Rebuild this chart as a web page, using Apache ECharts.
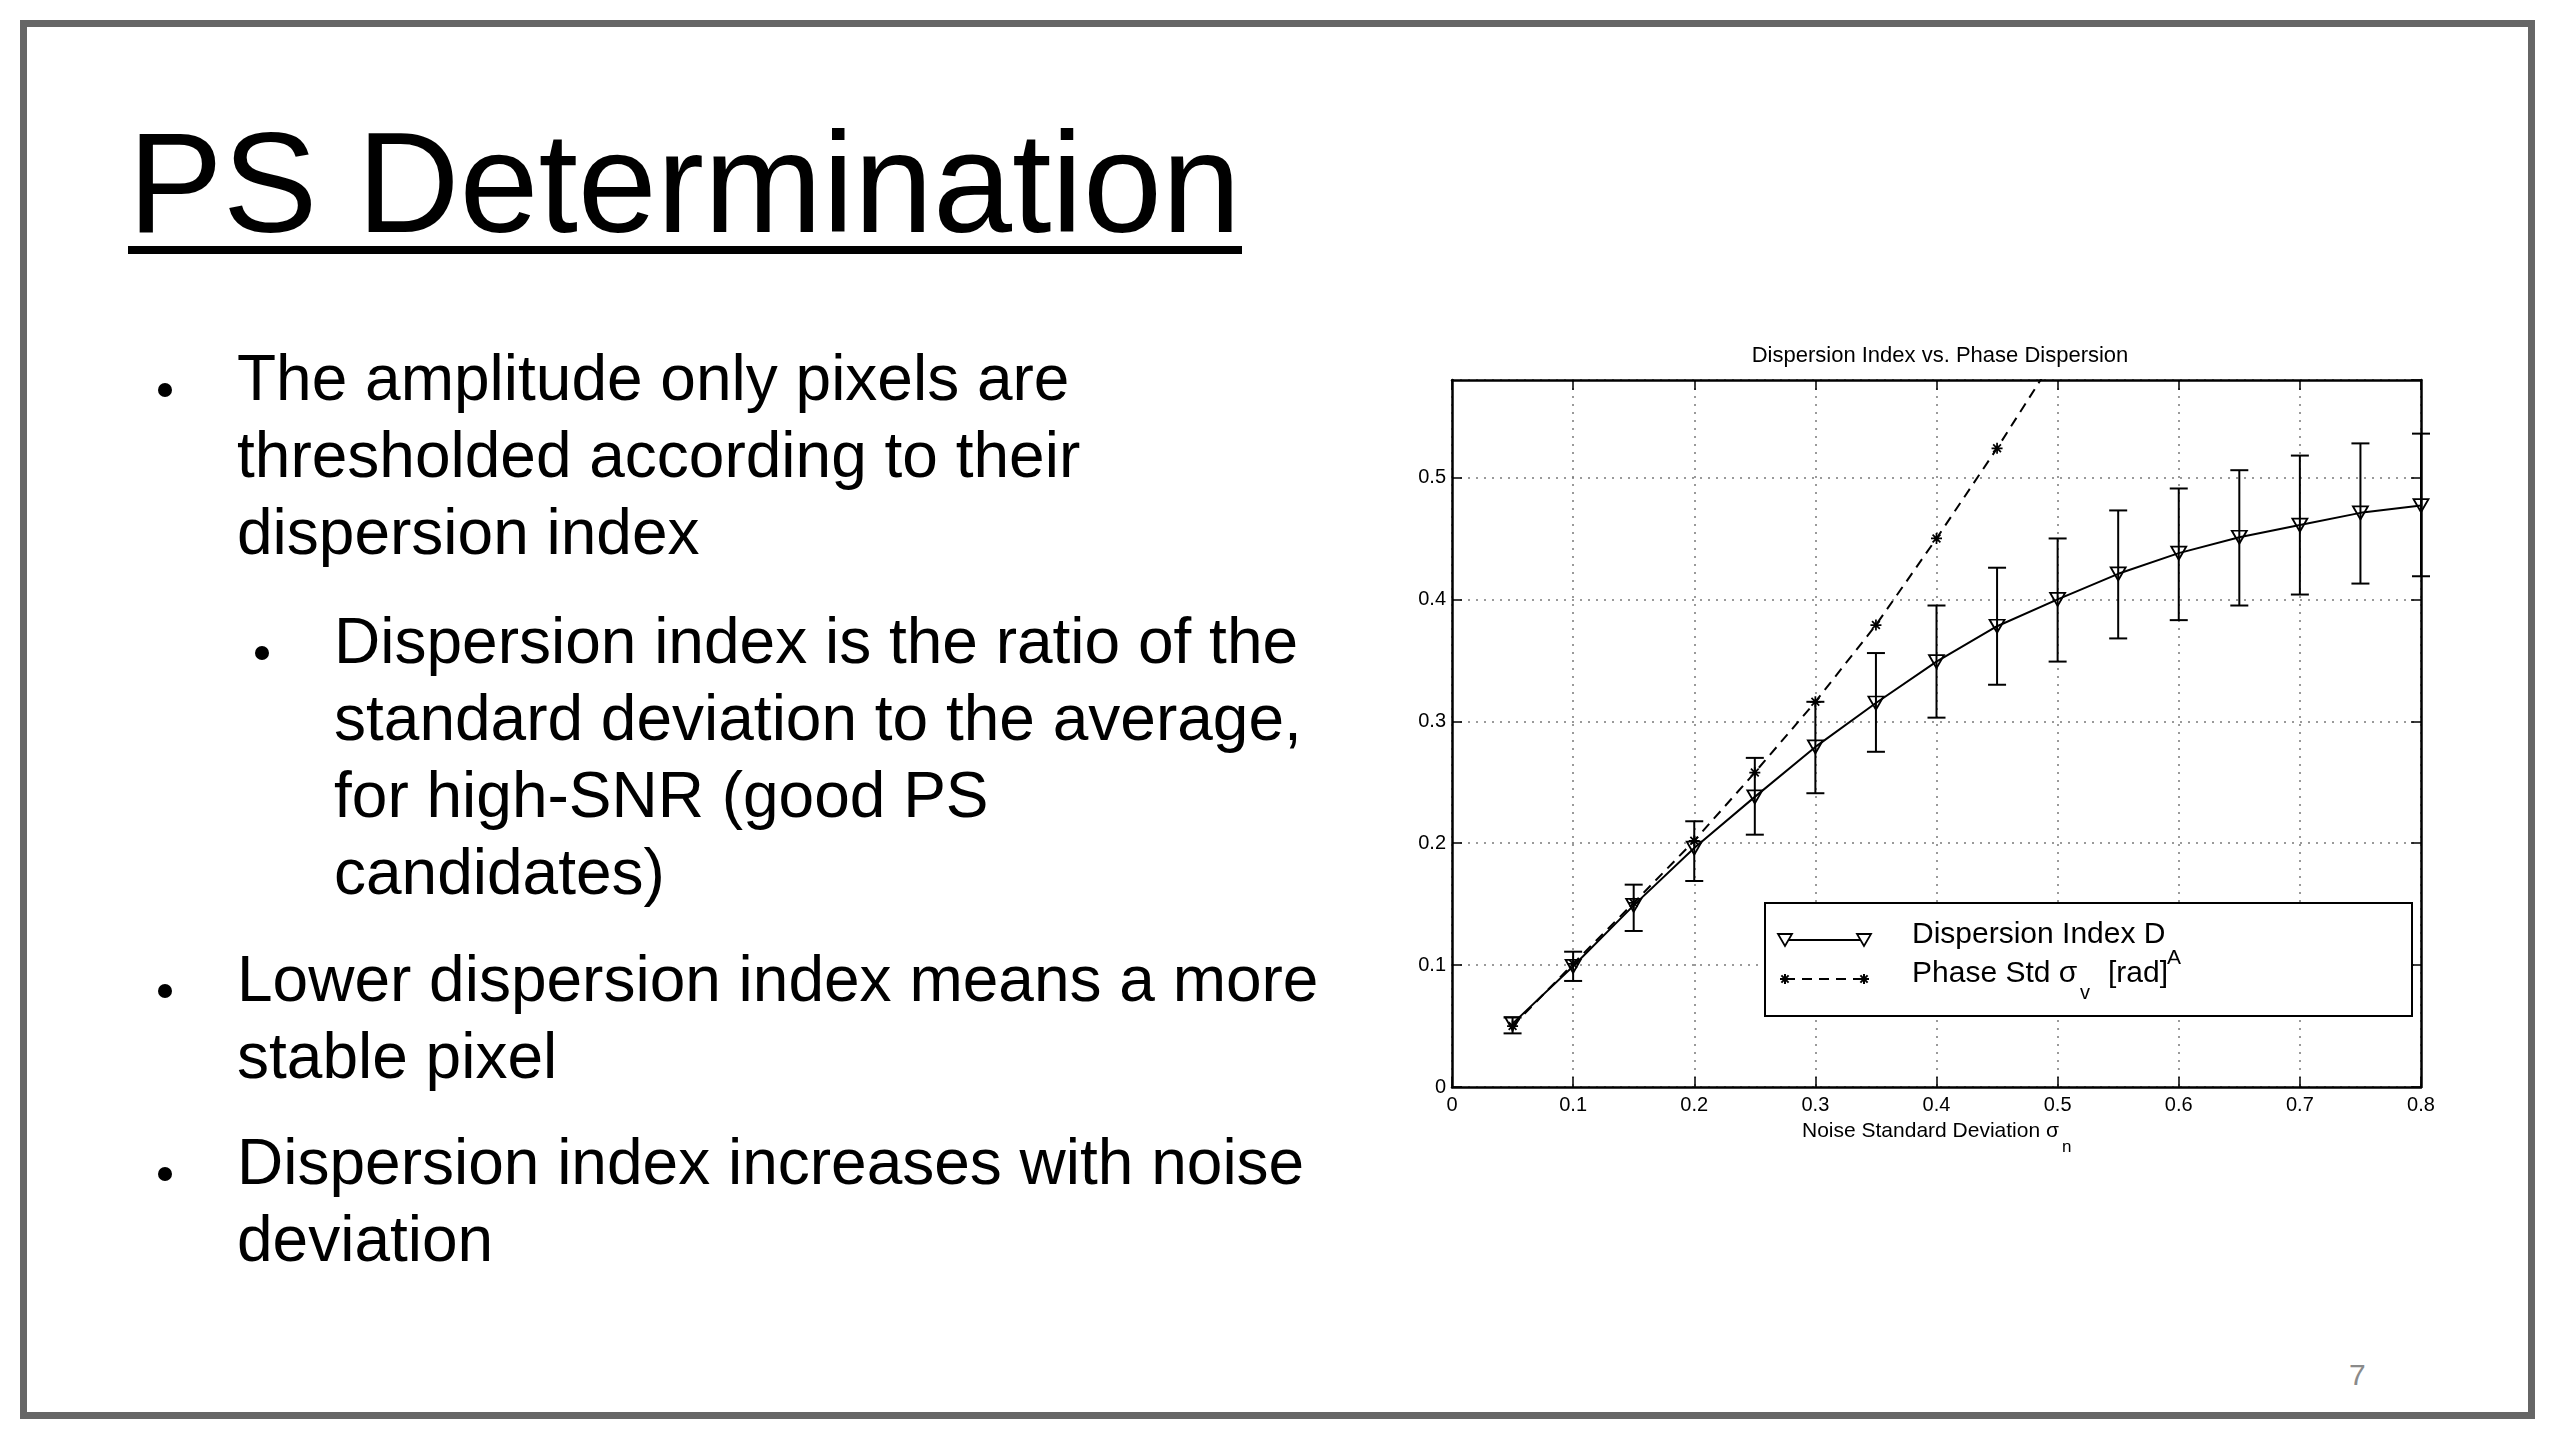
<!DOCTYPE html>
<html>
<head>
<meta charset="utf-8">
<script src="https://cdn.jsdelivr.net/npm/echarts@6/dist/echarts.min.js"></script>
<style>
html,body{margin:0;padding:0;width:2560px;height:1440px;background:#fff;overflow:hidden;font-family:"Liberation Sans",Arial,Helvetica,sans-serif;color:#000}
.frame{position:absolute;left:20px;top:20px;width:2515px;height:1399px;border:7px solid #666;box-sizing:border-box}
.title{position:absolute;left:128px;top:112px;font-size:142px;line-height:142px;white-space:nowrap}
.uline{position:absolute;left:128px;top:246px;width:1114px;height:8px;background:#000}
.p{position:absolute;font-size:64px;line-height:77px;white-space:nowrap}
.dot{position:absolute;width:14px;height:14px;border-radius:50%;background:#000}
.pg{position:absolute;left:2349px;top:1360px;font-size:30px;line-height:30px;color:#8a8a8a}
#chart{position:absolute;left:0;top:0;width:2560px;height:1440px}
</style>
</head>
<body>
<div class="frame"></div>
<div class="title">PS Determination</div>
<div class="uline"></div>

<div class="dot" style="left:158px;top:383px"></div>
<div class="p" style="left:237px;top:340px">The amplitude only pixels are<br>thresholded according to their<br>dispersion index</div>

<div class="dot" style="left:255px;top:646px"></div>
<div class="p" style="left:334px;top:603px">Dispersion index is the ratio of the<br>standard deviation to the average,<br>for high-SNR (good PS<br>candidates)</div>

<div class="dot" style="left:158px;top:984px"></div>
<div class="p" style="left:237px;top:941px">Lower dispersion index means a more<br>stable pixel</div>

<div class="dot" style="left:158px;top:1167px"></div>
<div class="p" style="left:237px;top:1124px">Dispersion index increases with noise<br>deviation</div>

<div class="pg">7</div>
<div id="chart"></div>

<script>
// ---- data ----
const xValues = [0.05, 0.10, 0.15, 0.20, 0.25, 0.30, 0.35, 0.40, 0.45, 0.50, 0.55, 0.60, 0.65, 0.70, 0.75, 0.80];
const dispersionIndex = [0.052, 0.099, 0.149, 0.196, 0.238, 0.279, 0.315, 0.349, 0.378, 0.400, 0.421, 0.438, 0.451, 0.461, 0.471, 0.477];
const errLow  = [0.044, 0.087, 0.128, 0.169, 0.207, 0.241, 0.275, 0.303, 0.330, 0.349, 0.368, 0.383, 0.395, 0.404, 0.413, 0.419];
const errHigh = [0.057, 0.111, 0.166, 0.218, 0.270, 0.316, 0.356, 0.395, 0.426, 0.450, 0.473, 0.491, 0.506, 0.518, 0.528, 0.536];
const phaseX   = [0.05, 0.10, 0.15, 0.20, 0.25, 0.30, 0.35, 0.40, 0.45, 0.50];
const phaseStd = [0.050, 0.101, 0.151, 0.202, 0.258, 0.316, 0.379, 0.450, 0.524, 0.602];
const xTickLabels = ['0', '0.1', '0.2', '0.3', '0.4', '0.5', '0.6', '0.7', '0.8'];
const yTickLabels = ['0', '0.1', '0.2', '0.3', '0.4', '0.5'];

const FONT = '"Liberation Sans", Arial, Helvetica, sans-serif';
const TRI = 'path://M0,0 L12,0 L6,11 Z';
const AST = 'path://M-5,-0.8L5,-0.8L5,0.8L-5,0.8Z M-0.8,-5L0.8,-5L0.8,5L-0.8,5Z M-2.97,-4.1L4.1,2.97L2.97,4.1L-4.1,-2.97Z M-4.1,2.97L2.97,-4.1L4.1,-2.97L-2.97,4.1Z';

const chart = echarts.init(document.getElementById('chart'));

function tri(cx, cy) {
  return {type: 'polygon', z: 102, shape: {points: [[cx - 7, cy - 6], [cx + 7, cy - 6], [cx, cy + 6]]},
          style: {fill: '#fff', stroke: '#000', lineWidth: 1.8}};
}
function ast(cx, cy) {
  const r = 5, d = 3.6, out = [];
  [[-r, 0, r, 0], [0, -r, 0, r], [-d, -d, d, d], [-d, d, d, -d]].forEach(s => {
    out.push({type: 'line', z: 102, shape: {x1: cx + s[0], y1: cy + s[1], x2: cx + s[2], y2: cy + s[3]},
              style: {stroke: '#000', lineWidth: 2}});
  });
  return out;
}
function txt(t, x, y, size, align) {
  return {type: 'text', z: 102, x: x, y: y,
          style: {text: t, fontSize: size, fontFamily: FONT, fill: '#000', align: align || 'left', verticalAlign: 'middle'}};
}

const axisLineStyle = {color: '#000', width: 2.5};
const tickStyle = {show: true, inside: true, length: 10, lineStyle: {color: '#000', width: 1.5}};
const gridLine = {show: true, lineStyle: {color: '#7a7a7a', width: 1.5, type: [2, 6]}};

const option = {
  animation: false,
  backgroundColor: 'transparent',
  grid: {left: 1452, top: 380, width: 969, height: 707, containLabel: false, outerBoundsMode: 'none'},
  xAxis: [
    {type: 'value', min: 0, max: 0.8, interval: 0.1, position: 'bottom',
     axisLine: {show: true, onZero: false, lineStyle: axisLineStyle},
     axisTick: tickStyle,
     axisLabel: {margin: 8, fontSize: 20, color: '#000', fontFamily: FONT,
                 formatter: v => { const s = xTickLabels[Math.round(v * 10)]; return s === undefined ? '' : s; }},
     splitLine: gridLine},
    {type: 'value', min: 0, max: 0.8, interval: 0.1, position: 'top',
     axisLine: {show: true, onZero: false, lineStyle: axisLineStyle},
     axisTick: tickStyle, axisLabel: {show: false}, splitLine: {show: false}}
  ],
  yAxis: [
    {type: 'value', min: 0, max: 0.58, interval: 0.1, position: 'left',
     axisLine: {show: true, onZero: false, lineStyle: axisLineStyle},
     axisTick: tickStyle,
     axisLabel: {margin: 6, fontSize: 20, color: '#000', fontFamily: FONT, showMaxLabel: false,
                 formatter: v => { const i = Math.round(v * 10); return (Math.abs(v * 10 - i) < 1e-6 && yTickLabels[i] !== undefined) ? yTickLabels[i] : ''; }},
     splitLine: gridLine},
    {type: 'value', min: 0, max: 0.58, interval: 0.1, position: 'right',
     axisLine: {show: true, onZero: false, lineStyle: axisLineStyle},
     axisTick: tickStyle, axisLabel: {show: false}, splitLine: {show: false}}
  ],
  series: [
    {
      type: 'custom', name: 'error', z: 3, clip: false,
      data: xValues.map((x, i) => [x, errLow[i], errHigh[i]]),
      encode: {x: 0, y: [1, 2]},
      renderItem: function (params, api) {
        const x = api.value(0);
        const lo = api.coord([x, api.value(1)]);
        const hi = api.coord([x, api.value(2)]);
        const w = 9;
        const st = {stroke: '#000', lineWidth: 2};
        return {type: 'group', children: [
          {type: 'line', shape: {x1: lo[0], y1: lo[1], x2: hi[0], y2: hi[1]}, style: st},
          {type: 'line', shape: {x1: lo[0] - w, y1: lo[1], x2: lo[0] + w, y2: lo[1]}, style: st},
          {type: 'line', shape: {x1: hi[0] - w, y1: hi[1], x2: hi[0] + w, y2: hi[1]}, style: st}
        ]};
      }
    },
    {
      type: 'line', name: 'Dispersion Index', z: 4,
      data: xValues.map((x, i) => [x, dispersionIndex[i]]),
      symbol: TRI, symbolSize: [15, 13],
      lineStyle: {color: '#000', width: 2},
      itemStyle: {color: 'rgba(255,255,255,0)', borderColor: '#000', borderWidth: 1.8}
    },
    {
      type: 'line', name: 'Phase Std', z: 4, clip: true,
      data: phaseX.map((x, i) => [x, phaseStd[i]]),
      symbol: AST, symbolSize: 11,
      lineStyle: {color: '#000', width: 2, type: [10, 7]},
      itemStyle: {color: '#000'}
    }
  ],
  graphic: [
    txt('Dispersion Index vs. Phase Dispersion', 1940, 356, 22, 'center'),
    txt('Noise Standard Deviation \u03c3', 1802, 1131, 21),
    txt('n', 2062, 1147, 17),
    {type: 'rect', z: 101, shape: {x: 1765, y: 903, width: 647, height: 113},
     style: {fill: '#fff', stroke: '#000', lineWidth: 2}},
    {type: 'line', z: 102, shape: {x1: 1785, y1: 940, x2: 1864, y2: 940}, style: {stroke: '#000', lineWidth: 2}},
    tri(1785, 940), tri(1864, 940),
    {type: 'line', z: 102, shape: {x1: 1785, y1: 979, x2: 1864, y2: 979}, style: {stroke: '#000', lineWidth: 2, lineDash: [10, 7]}},
    ...ast(1785, 979), ...ast(1864, 979),
    txt('Dispersion Index D', 1912, 935, 30),
    txt('A', 2167, 958, 21),
    txt('Phase Std \u03c3', 1912, 974, 30),
    txt('v', 2080, 993, 20),
    txt('[rad]', 2108, 974, 30)
  ]
};
chart.setOption(option);
</script>
</body>
</html>
